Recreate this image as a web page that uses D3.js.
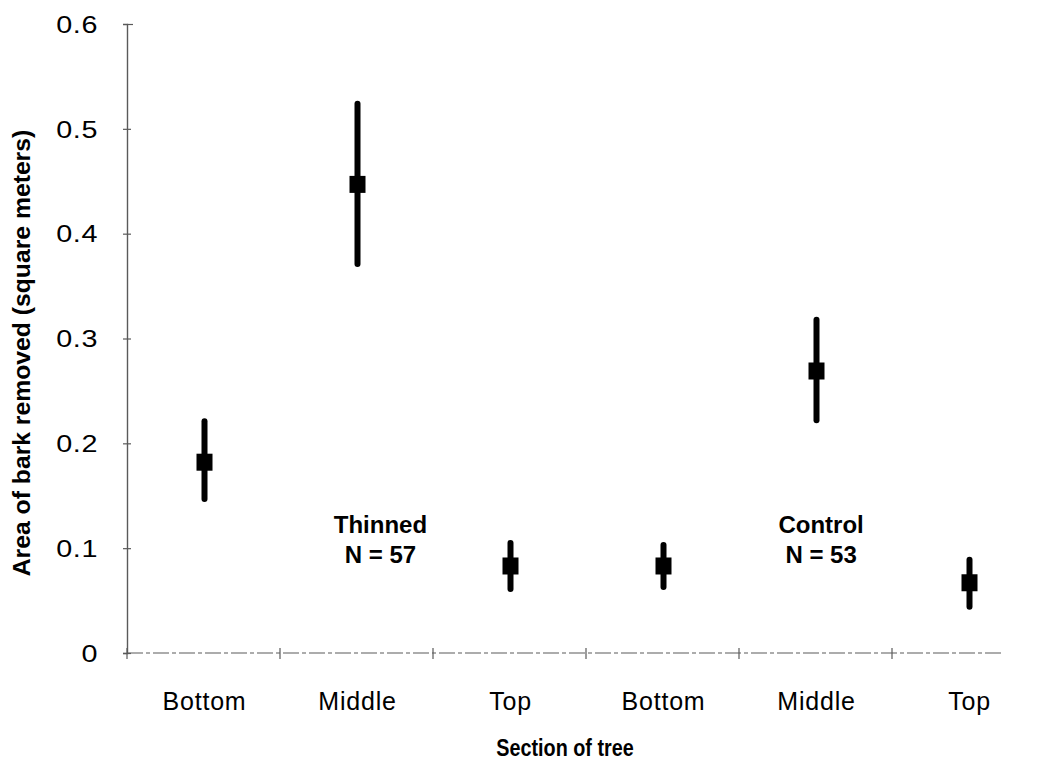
<!DOCTYPE html>
<html>
<head>
<meta charset="utf-8">
<script src="https://cdn.jsdelivr.net/npm/d3@7"></script>
<style>
  html, body { margin: 0; padding: 0; background: #fff; }
  svg { display: block; }
  text { font-family: "Liberation Sans", Arial, Helvetica, sans-serif; fill: #000; }
</style>
</head>
<body>
<svg id="chart" width="1042" height="761"></svg>
<script>
// Bark removal by section of tree, thinned vs control stands
const sections = ["Bottom", "Middle", "Top", "Bottom", "Middle", "Top"];
const treatments = ["Thinned", "Thinned", "Thinned", "Control", "Control", "Control"];
const meanArea = [0.182, 0.447, 0.083, 0.083, 0.269, 0.067];
const lowerArea = [0.147, 0.371, 0.061, 0.063, 0.222, 0.044];
const upperArea = [0.221, 0.524, 0.105, 0.103, 0.318, 0.089];
const yTicks = [0, 0.1, 0.2, 0.3, 0.4, 0.5, 0.6];
const groupNames = ["Thinned", "Control"];
const groupN = [57, 53];

const svg = d3.select("#chart");

const x = d3.scaleBand()
  .domain(d3.range(sections.length))
  .range([128, 1046])
  .paddingInner(0)
  .paddingOuter(0);

const y = d3.scaleLinear().domain([0, 0.6]).range([653, 24]);

const axisColor = "#5a5a5a";

// Y axis: vertical line with short crossing ticks
const yAxis = svg.append("g")
  .attr("transform", `translate(${x.range()[0] - 1},0)`)
  .call(d3.axisLeft(y)
    .tickValues(yTicks)
    .tickSize(4)
    .tickFormat(d => d === 0 ? "0" : d3.format(".1f")(d)));
yAxis.select(".domain").attr("stroke", axisColor).attr("stroke-width", 1.4);
yAxis.selectAll(".tick line")
  .attr("x1", d => d === 0.6 ? 6 : 4)
  .attr("x2", d => d === 0.6 ? 0 : -4)
  .attr("stroke", axisColor).attr("stroke-width", 1.2);
yAxis.selectAll(".tick text")
  .attr("x", 0)
  .attr("dy", "0.36em")
  .attr("transform", "translate(-29,0) scale(1.25,1)")
  .style("font-size", "23px")
  .style("letter-spacing", "0.5px");

// X axis baseline
svg.append("line")
  .attr("x1", x.range()[0] - 1).attr("x2", 1002)
  .attr("y1", y(0)).attr("y2", y(0))
  .attr("stroke", axisColor).attr("stroke-width", 1.2)
  .attr("stroke-dasharray", "16,3,4,3");

// Tick marks on the category boundaries
const boundaries = d3.range(sections.length).map(i => x(i));
svg.append("g").selectAll("line")
  .data(boundaries)
  .join("line")
  .attr("x1", d => d - 1).attr("x2", d => d - 1)
  .attr("y1", y(0) - 5).attr("y2", y(0) + 6)
  .attr("stroke", axisColor).attr("stroke-width", 1.2);

// Category labels
const xAxis = svg.append("g")
  .attr("transform", `translate(0,${y(0)})`)
  .call(d3.axisBottom(x).tickSize(0).tickPadding(39).tickFormat(i => sections[i]));
xAxis.select(".domain").remove();
xAxis.selectAll(".tick text")
  .style("font-size", "25px")
  .style("letter-spacing", "0.8px");

// Error bars
const cx = i => x(i) + x.bandwidth() / 2;
const marks = svg.append("g");
marks.selectAll("line.err")
  .data(d3.range(meanArea.length))
  .join("line")
  .attr("class", "err")
  .attr("x1", cx).attr("x2", cx)
  .attr("y1", i => y(upperArea[i]))
  .attr("y2", i => y(lowerArea[i]))
  .attr("stroke", "#000")
  .attr("stroke-width", 6)
  .attr("stroke-linecap", "round");

// Mean markers
const markW = 16, markH = 17;
marks.selectAll("rect.mean")
  .data(d3.range(meanArea.length))
  .join("rect")
  .attr("class", "mean")
  .attr("x", i => cx(i) - markW / 2)
  .attr("y", i => y(meanArea[i]) - markH / 2)
  .attr("width", markW)
  .attr("height", markH)
  .attr("fill", "#000");

// Treatment labels with sample sizes
const groupLabelPos = [1.65, 4.53];
const unitX = d3.scaleLinear().domain([0, sections.length]).range(x.range());
const groupLabels = svg.append("g").selectAll("text")
  .data(groupNames)
  .join("text")
  .attr("text-anchor", "middle")
  .style("font-size", "24px")
  .style("font-weight", "bold");
groupLabels.append("tspan")
  .attr("x", (d, i) => unitX(groupLabelPos[i]))
  .attr("y", y(0.1145))
  .text(d => d);
groupLabels.append("tspan")
  .attr("x", (d, i) => unitX(groupLabelPos[i]))
  .attr("y", y(0.086))
  .text((d, i) => `N = ${groupN[i]}`);

// Axis titles
svg.append("text")
  .attr("transform", "translate(30,353) rotate(-90) scale(1.03,1)")
  .attr("text-anchor", "middle")
  .style("font-size", "24px")
  .style("font-weight", "bold")
  .text("Area of bark removed (square meters)");

svg.append("text")
  .attr("transform", "translate(565,756) scale(0.86,1)")
  .attr("text-anchor", "middle")
  .style("font-size", "23px")
  .style("font-weight", "bold")
  .text("Section of tree");
</script>
</body>
</html>
